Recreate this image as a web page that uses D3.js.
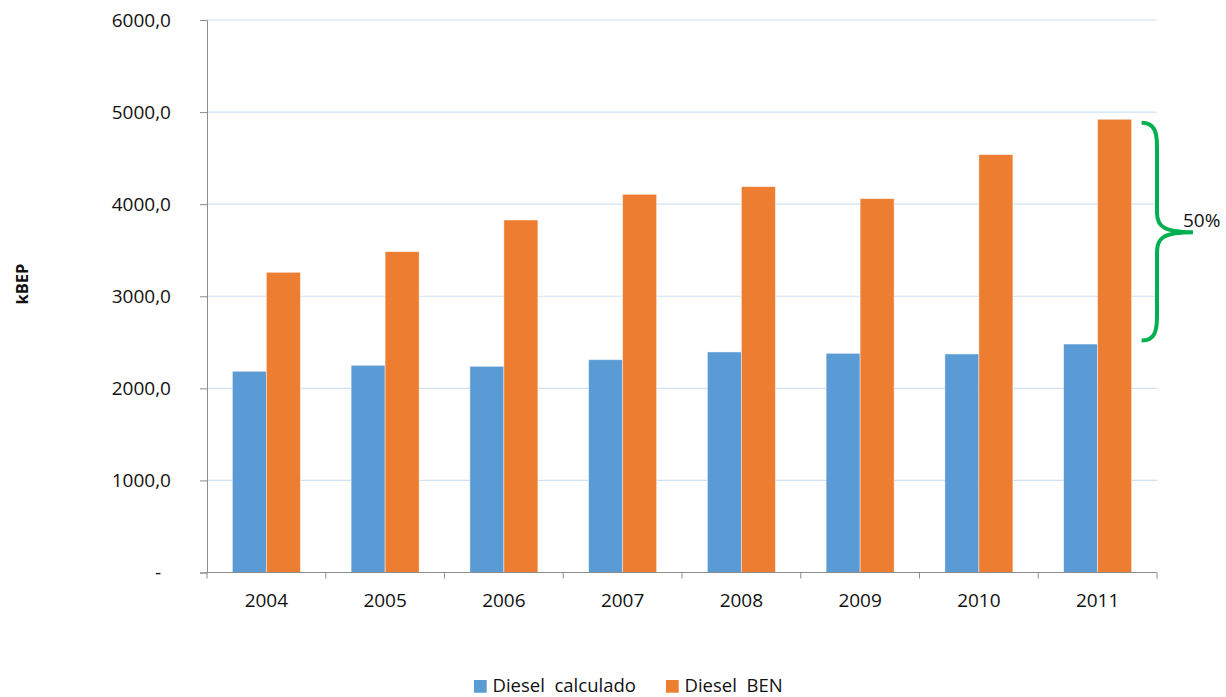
<!DOCTYPE html>
<html>
<head>
<meta charset="utf-8">
<script src="https://cdn.jsdelivr.net/npm/d3@7"></script>
<style>
  html, body { margin: 0; padding: 0; background: #fff; }
  svg { display: block; font-family: "Open Sans", sans-serif; }
</style>
</head>
<body>
<svg id="chart" width="1226" height="697"></svg>
<script>
const years = ["2004", "2005", "2006", "2007", "2008", "2009", "2010", "2011"];
const dieselCalculado = [2185, 2250, 2239, 2311, 2395, 2380, 2373, 2481];
const dieselBEN = [3260, 3484, 3828, 4107, 4190, 4060, 4538, 4922];
const seriesNames = ["Diesel  calculado", "Diesel  BEN"];
const seriesColors = ["#5B9BD5", "#ED7D31"];
const yTicks = [0, 1000, 2000, 3000, 4000, 5000, 6000];
const yLabel = "kBEP";
const bracketLabel = "50%";

const svg = d3.select("#chart");
const plotL = 207, plotR = 1157, plotT = 20, plotB = 572.5;

const y = d3.scaleLinear().domain([0, 6000]).range([plotB, plotT]);
const pIn = 1 - 68 / 118.75;
const x = d3.scaleBand().domain(years).range([plotL, plotR]).paddingInner(pIn).paddingOuter(pIn / 2);
const xs = d3.scaleBand().domain([0, 1]).range([0, x.bandwidth()]);

const loc = d3.formatLocale({ decimal: ",", thousands: ".", grouping: [3], currency: ["", ""] });
const fmt = loc.format(".1f");

// gridlines
svg.append("g").selectAll("line").data(yTicks.filter(d => d > 0)).join("line")
  .attr("x1", plotL).attr("x2", plotR)
  .attr("y1", d => y(d)).attr("y2", d => y(d))
  .attr("stroke", "#cfe0f4").attr("stroke-width", 1.2);

// y axis
const yAxis = svg.append("g").attr("transform", `translate(${plotL},0)`)
  .call(d3.axisLeft(y).tickValues(yTicks).tickSize(7).tickPadding(29)
    .tickFormat(d => d === 0 ? "-" : fmt(d)));
yAxis.select(".domain").attr("stroke", "#8c8c8c");
yAxis.selectAll(".tick line").attr("stroke", "#8c8c8c");
yAxis.selectAll(".tick text").attr("font-size", "19px").attr("fill", "#111")
  .attr("font-family", "Open Sans, sans-serif")
  .attr("dx", d => d === 0 ? -10 : 0);

// bars
const groups = svg.append("g").selectAll("g").data(years).join("g")
  .attr("transform", d => `translate(${x(d)},0)`);
[dieselCalculado, dieselBEN].forEach((vals, si) => {
  groups.append("rect")
    .attr("x", xs(si)).attr("width", xs.bandwidth())
    .attr("y", (d, i) => y(vals[i]))
    .attr("height", (d, i) => y(0) - y(vals[i]))
    .attr("fill", seriesColors[si])
    .attr("stroke", "rgba(255,255,255,0.55)").attr("stroke-width", 0.8);
});

// x axis
const xAxisScale = d3.scaleLinear().domain([0, years.length]).range([plotL, plotR]);
const xg = svg.append("g").attr("transform", `translate(0,${plotB})`);
xg.append("line").attr("x1", plotL).attr("x2", plotR).attr("y1", 0).attr("y2", 0).attr("stroke", "#8c8c8c");
xg.selectAll("line.tk").data(d3.range(years.length + 1)).join("line").attr("class", "tk")
  .attr("x1", d => xAxisScale(d)).attr("x2", d => xAxisScale(d))
  .attr("y1", 0).attr("y2", 6).attr("stroke", "#8c8c8c");
xg.selectAll("text").data(years).join("text")
  .attr("x", d => x(d) + x.bandwidth() / 2).attr("y", 34)
  .attr("text-anchor", "middle").attr("font-size", "19px").attr("fill", "#111")
  .text(d => d);

// y label
svg.append("text")
  .attr("transform", "translate(28,284) rotate(-90)")
  .attr("text-anchor", "middle").attr("font-weight", "bold").attr("font-size", "16.5px")
  .attr("fill", "#111").text(yLabel);

// bracket
const bTop = y(dieselBEN[7]) + 3.5;
const bBot = y(dieselCalculado[7]) - 3.5;
const bx0 = x("2011") + x.bandwidth() + 10;
const bx1 = plotR;
const tipX = 1193;
const mid = (bTop + bBot) / 2 + 0.5;
const path = d3.path();
path.moveTo(bx0, bTop);
path.bezierCurveTo(bx1 - 2, bTop, bx1, bTop + 10, bx1, bTop + 24);
path.lineTo(bx1, mid - 20);
path.bezierCurveTo(bx1, mid - 6, bx1 + 6, mid, tipX, mid);
path.moveTo(tipX, mid);
path.bezierCurveTo(bx1 + 6, mid, bx1, mid + 6, bx1, mid + 20);
path.lineTo(bx1, bBot - 24);
path.bezierCurveTo(bx1, bBot - 10, bx1 - 2, bBot, bx0, bBot);
svg.append("path").attr("d", path.toString())
  .attr("fill", "none").attr("stroke", "#00B050").attr("stroke-width", 4)
  .attr("stroke-linecap", "butt").attr("stroke-linejoin", "round");
svg.append("text").attr("x", 1183).attr("y", mid - 5)
  .attr("font-size", "19px").attr("fill", "#111").text(bracketLabel);

// legend
const legendX = [474, 666];
const lg = svg.append("g");
seriesNames.forEach((name, i) => {
  lg.append("rect").attr("x", legendX[i]).attr("y", 680).attr("width", 12.7).attr("height", 12.7)
    .attr("fill", seriesColors[i]);
  lg.append("text").attr("x", legendX[i] + 18.5).attr("y", 692)
    .attr("font-size", "18.5px").attr("fill", "#111")
    .style("white-space", "pre").attr("xml:space", "preserve").text(name);
});
</script>
</body>
</html>
